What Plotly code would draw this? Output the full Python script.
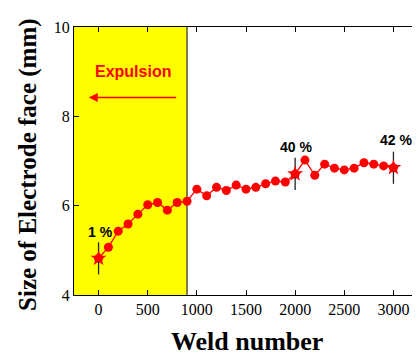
import plotly.graph_objects as go

weld = [0, 100, 200, 300, 400, 500, 600, 700, 800, 900, 1000, 1100, 1200, 1300, 1400,
        1500, 1600, 1700, 1800, 1900, 2000, 2100, 2200, 2300, 2400, 2500, 2600, 2700,
        2800, 2900, 3000]
size = [4.82, 5.07, 5.43, 5.59, 5.81, 6.02, 6.07, 5.90, 6.07, 6.10, 6.37, 6.22, 6.41,
        6.34, 6.46, 6.37, 6.41, 6.49, 6.55, 6.53, 6.71, 7.02, 6.68, 6.93, 6.84, 6.80,
        6.84, 6.96, 6.93, 6.89, 6.85]

star_x = [0, 2000, 3000]
star_y = [4.82, 6.71, 6.85]
star_err = [0.36, 0.36, 0.36]
star_labels = ["1 %", "40 %", "42 %"]
label_pos = [(20, 5.41), (2013, 7.31), (3024, 7.47)]

expulsion_end = 900
x_ticks = [0, 500, 1000, 1500, 2000, 2500, 3000]
y_ticks = [4, 6, 8, 10]

fig = go.Figure()

fig.add_shape(type="rect", xref="x", yref="y", x0=-250, x1=expulsion_end, y0=4, y1=10,
              fillcolor="#ffff00", line=dict(width=0), layer="below")
fig.add_shape(type="line", xref="x", yref="y", x0=expulsion_end, x1=expulsion_end, y0=4, y1=10,
              line=dict(color="black", width=1), layer="below")

fig.add_trace(go.Scatter(x=weld, y=size, mode="lines+markers",
                         line=dict(color="#ff0000", width=1.3),
                         marker=dict(color="#ff0000", size=9, symbol="circle"),
                         showlegend=False))
fig.add_trace(go.Scatter(x=star_x, y=star_y, mode="markers",
                         marker=dict(color="#ff0000", size=12, symbol="star"),
                         error_y=dict(type="data", array=star_err, visible=True,
                                      color="#222222", thickness=1.3, width=0),
                         showlegend=False))

for txt, (lx, ly) in zip(star_labels, label_pos):
    fig.add_annotation(x=lx, y=ly, text="<b>%s</b>" % txt, showarrow=False,
                       font=dict(family="Liberation Sans, Arial", size=14, color="black"))

fig.add_annotation(x=346, y=9.01, text="<b>Expulsion</b>", showarrow=False,
                   font=dict(family="Liberation Sans, Arial", size=16, color="#ff0000"))
fig.add_annotation(x=-100, y=8.42, ax=805, ay=8.42, axref="x", ayref="y",
                   text="", showarrow=True, arrowhead=2, arrowsize=1.2,
                   arrowwidth=1.5, arrowcolor="#ff0000")

fig.add_annotation(xref="paper", yref="paper", x=-0.134, y=0.485, textangle=-90,
                   xanchor="center", yanchor="middle",
                   text="<b>Size of Electrode face (mm)</b>", showarrow=False,
                   font=dict(family="Liberation Serif, Times New Roman", size=25, color="black"))
fig.add_annotation(xref="paper", yref="paper", x=0.502, y=-0.175,
                   xanchor="center", yanchor="middle",
                   text="<b>Weld number</b>", showarrow=False,
                   font=dict(family="Liberation Serif, Times New Roman", size=26, color="black"))

axis_common = dict(showline=True, linecolor="black", linewidth=1, mirror="ticks",
                   ticks="inside", ticklen=5, tickcolor="black", showgrid=False,
                   zeroline=False,
                   tickfont=dict(family="Liberation Serif, Times New Roman", size=16, color="black"))

fig.update_xaxes(range=[-250, 3250], tickvals=x_ticks, **axis_common)
fig.update_yaxes(range=[4, 10], tickvals=y_ticks, **axis_common)

# page body has an 8px margin, so the figure is sized/offset to compensate
fig.update_layout(width=412, height=350, margin=dict(l=66, r=2, t=19, b=63),
                  plot_bgcolor="white", paper_bgcolor="white")

fig.write_html("out.html")
